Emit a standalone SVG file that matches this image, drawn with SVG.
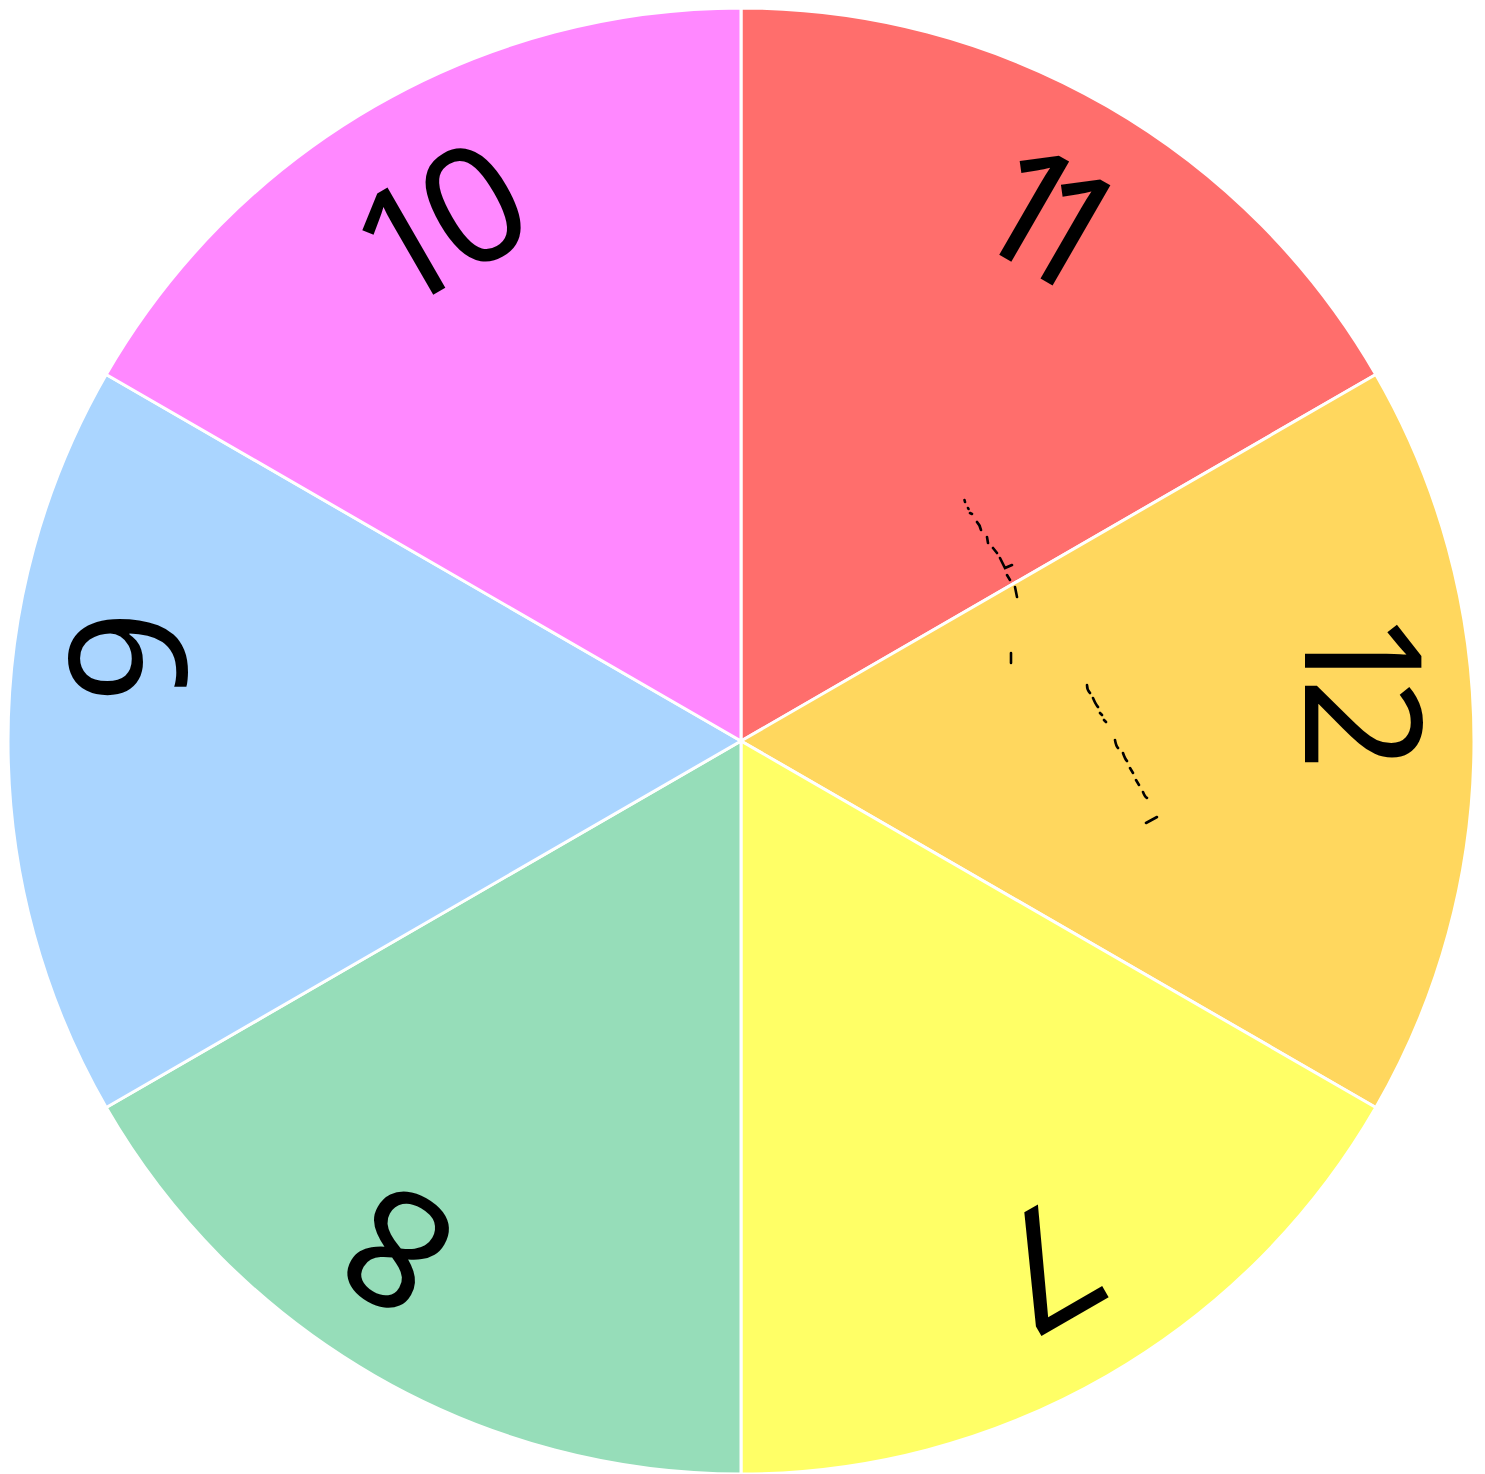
<svg xmlns="http://www.w3.org/2000/svg" width="1485" height="1474" viewBox="0 0 1485 1474">
<style>
.sec{stroke:#ffffff;stroke-width:3;stroke-linejoin:round}
.lbl{font-family:"Noto Sans","Open Sans",sans-serif;font-size:162px;fill:#000;text-anchor:middle}
.mk{fill:none;stroke:#000;stroke-width:2.6;stroke-linecap:round}
</style>
<rect width="1485" height="1474" fill="#ffffff"/>
<g id="sector-11">
<path class="sec" fill="#FF6E6C" d="M741,741 L741,8 A733,733 0 0 1 1375.8,374.5 Z"/>
<text class="lbl" transform="translate(1036,209) rotate(30)" x="0" y="58" letter-spacing="-45" dx="-5">11</text>
</g>
<g id="sector-12">
<path class="sec" fill="#FFD75E" d="M741,741 L1375.8,374.5 A733,733 0 0 1 1375.8,1107.5 Z"/>
<text class="lbl" transform="translate(1363,678) rotate(90)" x="0" y="58" letter-spacing="-25">12</text>
</g>
<g id="sector-7">
<path class="sec" fill="#FFFF66" d="M741,741 L1375.8,1107.5 A733,733 0 0 1 741,1474 Z"/>
<text class="lbl" transform="translate(1046,1267) rotate(150)" x="0" y="58">7</text>
</g>
<g id="sector-8">
<path class="sec" fill="#96DDB9" d="M741,741 L741,1474 A733,733 0 0 1 106.2,1107.5 Z"/>
<text class="lbl" transform="translate(397,1250) rotate(210)" x="0" y="58">8</text>
</g>
<g id="sector-9">
<path class="sec" fill="#AAD5FF" d="M741,741 L106.2,1107.5 A733,733 0 0 1 106.2,374.5 Z"/>
<text class="lbl" transform="translate(128,657) rotate(270)" x="0" y="58">9</text>
</g>
<g id="sector-10">
<path class="sec" fill="#FF88FF" d="M741,741 L106.2,374.5 A733,733 0 0 1 741,8 Z"/>
<text class="lbl" transform="translate(433,228) rotate(330)" x="0" y="58" letter-spacing="-16">10</text>
</g>
<g id="marks">
<path class="mk" d="M964.5,500 L965,502 M968,508 L968.5,509 M970,513 L972,514 M977,522 Q980,525 981,530 M987,537 L988,543 M993,548 L997,553 M1000,558 L1005,568 L1012,565 M1007,575 L1010,580 M1015,587 L1017,597 M1011,653 L1011,663 M1087,685 Q1087,690 1090,693 M1093,698 Q1096,705 1098,707 M1100,713 L1102,715 M1104,720 L1106,722 M1115,740 Q1116,746 1118,748 M1123,753 Q1125,759 1127,761 M1130,768 L1133,773 M1136,780 L1139,785 M1143,792 Q1145,797 1147,798 M1146,823 L1157,817"/>
</g>
</svg>
